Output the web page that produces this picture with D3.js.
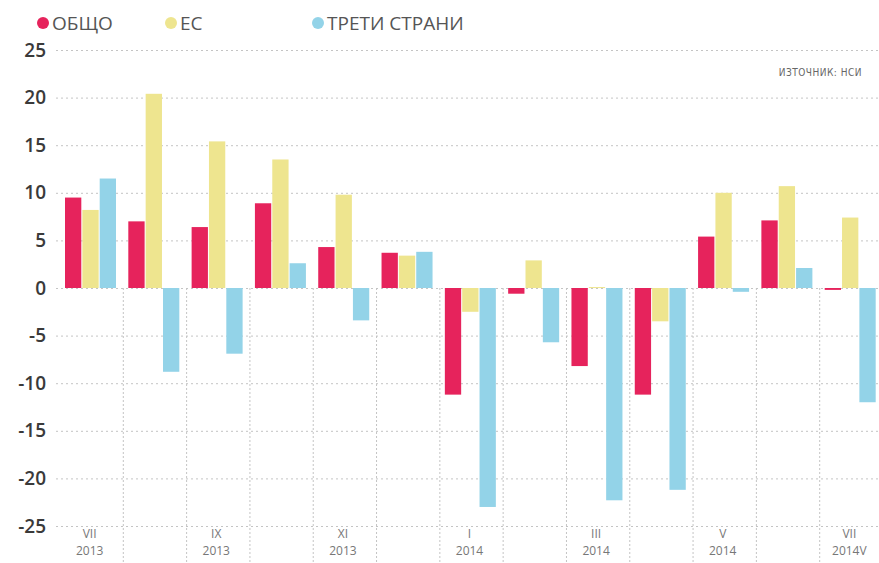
<!DOCTYPE html>
<html lang="bg">
<head>
<meta charset="UTF-8">
<title>ОБЩО / ЕС / ТРЕТИ СТРАНИ</title>
<script src="https://d3js.org/d3.v7.min.js"></script>
<style>
    body { margin: 0; background: #fff; }
    .grid line { stroke: #c4c4c4; stroke-dasharray: 2,3; }
    .grid text { font-family: "Open Sans", sans-serif; font-weight: 600; font-size: 19px; fill: #3a3a3a; }
    .xlab { font-family: "Open Sans", sans-serif; font-size: 12px; fill: #777; }
    .legend text { font-family: "Open Sans", sans-serif; font-size: 19px; fill: #555; }
</style>
</head>
<body>
<div id="chart"></div>
<script>
    // months (one group each)
    const months = ["VII 2013", "VIII 2013", "IX 2013", "X 2013", "XI 2013", "XII 2013",
                    "I 2014", "II 2014", "III 2014", "IV 2014", "V 2014", "VI 2014", "VII 2014"];
    // labels shown under every other group
    const monthLabels = [["VII", "2013"], null, ["IX", "2013"], null, ["XI", "2013"], null,
                         ["I", "2014"], null, ["III", "2014"], null, ["V", "2014"], null, ["VII", "2014V"]];

    const total = [9.5, 7.0, 6.4, 8.9, 4.3, 3.7, -11.2, -0.6, -8.2, -11.2, 5.4, 7.1, -0.2];
    const eu    = [8.2, 20.4, 15.4, 13.5, 9.8, 3.4, -2.5, 2.9, 0.1, -3.5, 10.0, 10.7, 7.4];
    const third = [11.5, -8.8, -6.9, 2.6, -3.4, 3.8, -23.0, -5.7, -22.3, -21.2, -0.4, 2.1, -12.0];

    const seriesNames = ["ОБЩО", "ЕС", "ТРЕТИ СТРАНИ"];
    const colors = ["#e6235c", "#eee58f", "#93d3e8"];
    const yTicks = [25, 20, 15, 10, 5, 0, -5, -10, -15, -20, -25];

    const W = 879, H = 563;
    const svg = d3.select("#chart").append("svg")
        .attr("width", W).attr("height", H);

    const x = d3.scaleBand().domain(months).range([60, 883]);
    const xSub = d3.scaleBand().domain(seriesNames).range([5, 56]).paddingInner(0.06);
    const y = d3.scaleLinear().domain([-25, 25]).range([526, 50]);

    // horizontal dotted grid + tick labels
    const grid = svg.append("g")
        .attr("class", "grid")
        .attr("transform", "translate(56,0)")
        .call(d3.axisLeft(y).tickValues(yTicks).tickSize(-(W - 56)).tickPadding(10)
            .tickFormat(d3.format("d")));
    grid.select(".domain").remove();
    grid.selectAll("text").text(d => d < 0 ? "-" + Math.abs(d) : d);

    // vertical separators between months, below zero only
    svg.append("g").selectAll("line")
        .data(months.slice(1))
        .join("line")
        .attr("x1", d => x(d)).attr("x2", d => x(d))
        .attr("y1", y(0)).attr("y2", H)
        .attr("stroke", "#c4c4c4")
        .attr("stroke-dasharray", "2,2");

    // bars
    const rows = months.map((m, i) => ({month: m, vals: [total[i], eu[i], third[i]]}));
    svg.append("g").selectAll("g")
        .data(rows)
        .join("g")
        .attr("transform", d => `translate(${x(d.month)},0)`)
        .selectAll("rect")
        .data(d => d.vals.map((v, k) => ({key: seriesNames[k], v: v, k: k})))
        .join("rect")
        .attr("x", d => xSub(d.key))
        .attr("width", xSub.bandwidth())
        .attr("y", d => y(Math.max(0, d.v)))
        .attr("height", d => Math.max(1, Math.abs(y(d.v) - y(0))))
        .attr("fill", d => colors[d.k]);

    // month labels, two lines each
    const labelled = months.map((m, i) => ({m: m, l: monthLabels[i]})).filter(d => d.l);
    [0, 1].forEach(line => {
        svg.append("g").selectAll("text")
            .data(labelled)
            .join("text")
            .attr("class", "xlab")
            .attr("text-anchor", "middle")
            .attr("x", d => x(d.m) + x.bandwidth() / 2 - 2)
            .attr("y", 538 + line * 17)
            .text(d => d.l[line]);
    });

    // legend
    const legendX = [43, 171, 318];
    const leg = svg.append("g").attr("class", "legend")
        .selectAll("g").data(seriesNames).join("g")
        .attr("transform", (d, i) => `translate(${legendX[i]},23)`);
    leg.append("circle").attr("r", 6).attr("fill", (d, i) => colors[i]);
    leg.append("text").attr("x", 9).attr("y", 7).text(d => d);

    // source
    svg.append("text")
        .attr("x", 862).attr("y", 76)
        .attr("text-anchor", "end")
        .attr("font-family", "DejaVu Sans Condensed, sans-serif")
        .attr("font-size", 10)
        .attr("letter-spacing", 0.5)
        .attr("fill", "#666")
        .text("ИЗТОЧНИК: НСИ");
</script>
</body>
</html>
